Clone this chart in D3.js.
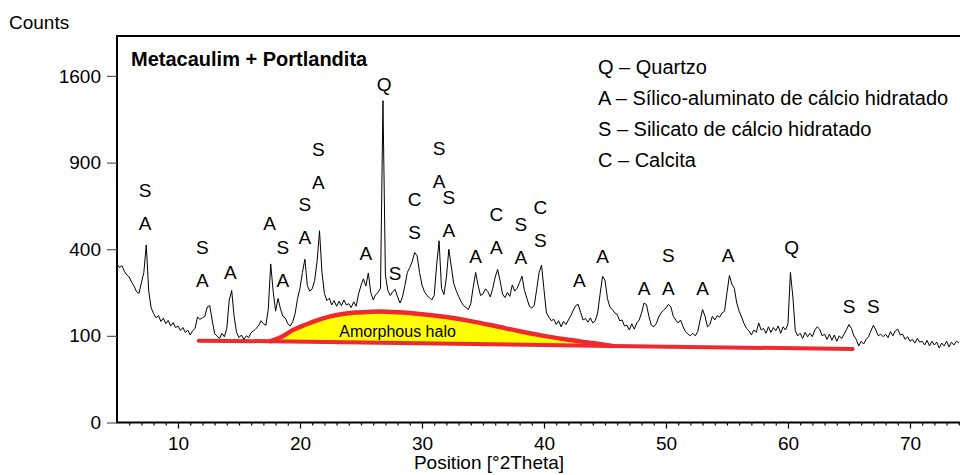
<!DOCTYPE html>
<html>
<head>
<meta charset="utf-8">
<script src="https://cdn.jsdelivr.net/npm/d3@7/dist/d3.min.js"></script>
<style>
  body { margin: 0; background: #fff; }
  svg text { font-family: "Liberation Sans", Arial, sans-serif; fill: #000; }
</style>
</head>
<body>
<div id="xrd"></div>
<script>
// scan: 5 to 74 deg 2theta, step 0.2
const scanStart = 5, scanStep = 0.2;
const counts = [
  335, 320, 328, 305, 290,
  282, 262, 248, 228, 222,
  260, 300, 420, 230, 175,
  158, 146, 152, 136, 145,
  130, 139, 124, 133, 120,
  124, 113, 120, 108, 114,
  102, 112, 118, 148, 142,
  146, 150, 178, 182, 140,
  105, 100, 94, 106, 98,
  118, 200, 232, 150, 108,
  96, 102, 92, 100, 96,
  108, 112, 118, 124, 138,
  130, 126, 170, 335, 230,
  165, 205, 172, 150, 145,
  130, 124, 135, 158, 205,
  240, 300, 355, 250, 230,
  238, 268, 345, 490, 300,
  222, 198, 206, 184, 198,
  180, 196, 182, 200, 184,
  188, 176, 194, 180, 220,
  250, 275, 248, 298, 225,
  200, 218, 225, 240, 1380,
  290, 232, 215, 228, 236,
  210, 190, 210, 250, 300,
  320, 345, 385, 370, 300,
  252, 228, 215, 208, 200,
  215, 330, 440, 240, 218,
  280, 400, 325, 258, 232,
  212, 195, 182, 176, 170,
  188, 245, 300, 250, 215,
  220, 238, 228, 210, 240,
  282, 312, 268, 220, 208,
  225, 212, 252, 230, 240,
  262, 285, 232, 205, 180,
  175, 182, 235, 300, 330,
  235, 160, 148, 138, 142,
  128, 138, 122, 136, 128,
  140, 152, 168, 182, 186,
  162, 140, 144, 134, 146,
  132, 138, 160, 220, 285,
  270, 205, 178, 170, 160,
  156, 138, 140, 124, 126,
  114, 130, 116, 132, 140,
  160, 190, 185, 150, 126,
  122, 130, 148, 160, 168,
  175, 186, 178, 150, 140,
  132, 140, 122, 110, 104,
  100, 106, 100, 110, 140,
  170, 150, 122, 128, 150,
  140, 152, 148, 160, 165,
  225, 288, 255, 240, 190,
  165, 148, 130, 118, 112,
  102, 114, 108, 132, 114,
  118, 106, 122, 108, 120,
  112, 124, 106, 122, 114,
  130, 300, 210, 112, 100,
  106, 94, 108, 98, 106,
  98, 114, 122, 116, 100,
  104, 92, 104, 90, 102,
  88, 100, 94, 104, 115,
  128, 118, 100, 92, 78,
  88, 82, 92, 98, 112,
  126, 114, 100, 104, 98,
  104, 96, 110, 100, 112,
  116, 102, 104, 92, 98,
  88, 92, 84, 94, 86,
  88, 80, 90, 78, 88,
  80, 86, 74, 84, 78,
  88, 76, 86, 80, 88,
  85
];

// amorphous halo (hand drawn on the original)
const haloAngles = [17.6, 18.5, 19.5, 20.5, 21.5, 22.5, 23.5, 24.5, 25.5, 26.5, 27.5, 28.5, 30, 32, 34, 36, 38, 40, 42, 44, 45.6];
const haloCounts = [88, 98, 115, 128, 140, 150, 157, 161, 163, 164, 163, 161, 156, 148, 137, 124, 111, 100, 91, 84, 78];
const baseAngles = [11.7, 17.6, 45.6, 65.3];
const baseCounts = [89, 88, 78, 72];

// phase marks: position, letters from top to bottom, level of lowest letter
const markAngles = [7.3, 12.0, 14.3, 17.5, 18.6, 20.4, 21.5, 25.4, 26.9, 27.8, 29.4, 31.4, 32.2, 34.4, 36.1, 38.1, 39.7, 42.9, 44.8, 48.2, 50.2, 53.0, 55.1, 60.3, 65.0, 67.0];
const markLetters = ["SA", "SA", "A", "A", "SA", "SA", "SA", "A", "Q", "S", "CS", "SA", "SA", "A", "CA", "SA", "CS", "A", "A", "A", "SA", "A", "A", "Q", "S", "S"];
const markLevels = [530, 270, 301, 530, 270, 459, 770, 383, 1525, 299, 484, 776, 494, 370, 411, 365, 444, 270, 370, 241, 241, 241, 374, 410, 181, 181];

const legendCodes = ["Q", "A", "S", "C"];
const legendNames = ["Quartzo", "Sílico-aluminato de cálcio hidratado", "Silicato de cálcio hidratado", "Calcita"];

const yTicks = [0, 100, 400, 900, 1600];
const xTicks = [10, 20, 30, 40, 50, 60, 70];

const W = 960, H = 475;
const plot = { left: 117, top: 36, bottom: 422.5, right: 960 };

const svg = d3.select("#xrd").append("svg")
  .attr("width", W)
  .attr("height", H);

const x = d3.scaleLinear().domain([5, 74.1]).range([plot.left, plot.right]);
const y = d3.scaleSqrt().domain([0, 1990]).range([plot.bottom, plot.top]);

svg.append("clipPath").attr("id", "clip")
  .append("rect")
  .attr("x", plot.left).attr("y", plot.top)
  .attr("width", plot.right - plot.left).attr("height", plot.bottom - plot.top);

// halo
const halo = d3.range(haloAngles.length).map(i => ({ t: haloAngles[i], c: haloCounts[i] }));
const base = d3.range(baseAngles.length).map(i => ({ t: baseAngles[i], c: baseCounts[i] }));
const baseAt = t => {
  const i = d3.bisector(d => d.t).right(base, t) - 1;
  const a = base[Math.max(0, Math.min(i, base.length - 2))], b = base[Math.max(1, Math.min(i + 1, base.length - 1))];
  return a.c + (b.c - a.c) * (t - a.t) / (b.t - a.t);
};

svg.append("path")
  .datum(halo)
  .attr("fill", "#ffff00")
  .attr("d", d3.area()
    .x(d => x(d.t))
    .y0(d => y(baseAt(d.t)))
    .y1(d => y(d.c))
    .curve(d3.curveMonotoneX));

svg.append("path")
  .datum(base)
  .attr("fill", "none")
  .attr("stroke", "#ee2a2f")
  .attr("stroke-width", 4)
  .attr("stroke-linecap", "round")
  .attr("d", d3.line().x(d => x(d.t)).y(d => y(d.c)));

svg.append("path")
  .datum(halo)
  .attr("fill", "none")
  .attr("stroke", "#ee2a2f")
  .attr("stroke-width", 4.5)
  .attr("stroke-linecap", "round")
  .attr("d", d3.line().x(d => x(d.t)).y(d => y(d.c)).curve(d3.curveMonotoneX));

svg.append("text")
  .attr("x", x(28.0))
  .attr("y", y(98))
  .attr("text-anchor", "middle")
  .attr("font-size", "16px")
  .text("Amorphous halo");

// diffraction pattern
const pattern = counts.map((c, i) => ({ t: scanStart + i * scanStep, c: c }));
svg.append("path")
  .datum(pattern)
  .attr("clip-path", "url(#clip)")
  .attr("fill", "none")
  .attr("stroke", "#000")
  .attr("stroke-width", 1)
  .attr("stroke-linejoin", "round")
  .attr("d", d3.line().x(d => x(d.t)).y(d => y(d.c)));

// frame
svg.append("path")
  .attr("fill", "none")
  .attr("stroke", "#000")
  .attr("stroke-width", 2)
  .attr("d", `M${plot.right + 5},${plot.top}H${plot.left}V${plot.bottom}H${plot.right + 5}`);

// axes
const yAxis = svg.append("g")
  .attr("transform", `translate(${plot.left},0)`)
  .call(d3.axisLeft(y).tickValues(yTicks).tickFormat(d3.format("d"))
    .tickSizeInner(10).tickSizeOuter(0).tickPadding(6));
yAxis.select(".domain").remove();
yAxis.selectAll("text").attr("font-size", "19px").attr("font-family", null).attr("fill", "#000");
yAxis.selectAll("line").attr("stroke", "#555");

const minor = d3.range(6, 75).filter(v => v % 10 !== 0);
const xMinor = svg.append("g")
  .attr("transform", `translate(0,${plot.bottom})`)
  .call(d3.axisBottom(x).tickValues(minor).tickSize(3).tickFormat(""));
xMinor.select(".domain").remove();

const xAxis = svg.append("g")
  .attr("transform", `translate(0,${plot.bottom})`)
  .call(d3.axisBottom(x).tickValues(xTicks).tickSize(6).tickPadding(8));
xAxis.select(".domain").remove();
xAxis.selectAll("text").attr("font-size", "19px").attr("font-family", null).attr("fill", "#000");
svg.selectAll(".tick line").attr("stroke-width", 1.2);

svg.append("text")
  .attr("x", 489)
  .attr("y", 469)
  .attr("text-anchor", "middle")
  .attr("font-size", "19px")
  .text("Position [°2Theta]");

svg.append("text")
  .attr("x", 9)
  .attr("y", 29)
  .attr("font-size", "19px")
  .text("Counts");

svg.append("text")
  .attr("x", 131)
  .attr("y", 66)
  .attr("font-size", "20px")
  .attr("font-weight", "bold")
  .text("Metacaulim + Portlandita");

// phase marks
const marks = svg.append("g").attr("font-size", "19px").attr("text-anchor", "middle");
markAngles.forEach((t, i) => {
  const letters = markLetters[i].split("").reverse();
  letters.forEach((l, k) => {
    marks.append("text")
      .attr("x", x(t))
      .attr("y", y(markLevels[i]) + 7 - k * 33)
      .text(l);
  });
});

// legend
const legend = svg.append("g").attr("font-size", "20px");
legendCodes.forEach((code, i) => {
  legend.append("text")
    .attr("x", 598)
    .attr("y", 74 + i * 31)
    .text(code + " – " + legendNames[i]);
});
</script>
</body>
</html>
